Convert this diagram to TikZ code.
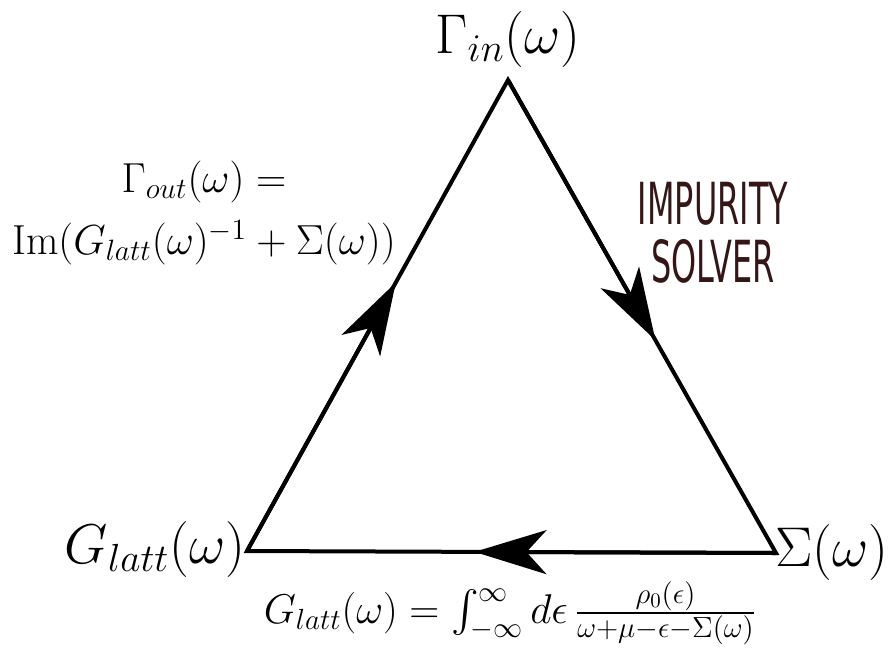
\RequirePackage{fix-cm}
\documentclass[tikz,border=0pt]{standalone}
\usepackage{amsmath}
\usepackage{fontspec}
\usetikzlibrary{arrows.meta,calc}
\newfontfamily\solverfont[FakeStretch=0.55]{DejaVu Sans}
\definecolor{solverbrown}{RGB}{52,22,22}

\begin{document}
\begin{tikzpicture}[x=0.5pt,y=-0.5pt,
  edge/.style={line width=2pt},
  flow/.style={line width=2pt,-{Stealth[length=36pt,width=22pt,inset=10pt]}},
  corner/.style={font=\fontsize{28}{33}\selectfont},
  formula/.style={font=\fontsize{21}{31}\selectfont,align=center}]

\useasboundingbox (0,0) rectangle (889,655);

% Corners of the loop
\coordinate (gin) at (508,80);
\coordinate (glatt) at (247,551);
\coordinate (sig) at (776,553);

% Arrow points on the sides
\coordinate (arrR) at ($(gin)!0.55!(sig)$);
\coordinate (arrB) at ($(sig)!0.57!(glatt)$);
\coordinate (arrL) at ($(glatt)!0.57!(gin)$);

% Triangle
\draw[edge] (gin) -- (sig) -- (glatt) -- cycle;

% Arrows on the sides
\draw[flow] (gin) -- (arrR);
\draw[flow] (sig) -- (arrB);
\draw[flow] (glatt) -- (arrL);

% Corner labels
\node[corner] (ginlabel) at (508,39) {$\Gamma_{in}(\omega)$};
\node[corner] (glattlabel) at (155,549) {$G_{latt}(\omega)$};
\node[corner] (siglabel) at (832,552) {$\Sigma(\omega)$};

% Formulas
\node[formula] (goutlabel) at (204,213)
  {$\Gamma_{out}(\omega)=$\\$\mathrm{Im}(G_{latt}(\omega)^{-1}+\Sigma(\omega))$};
\node[font=\fontsize{20.8}{30}\selectfont] (intlabel) at (510,613)
  {$G_{latt}(\omega)=\int_{-\infty}^{\infty}d\epsilon\,\frac{\rho_0(\epsilon)}{\omega+\mu-\epsilon-\Sigma(\omega)}$};

% Solver
\node[font=\solverfont\fontsize{29}{29}\selectfont,text=solverbrown,align=center]
  (solver) at (713,233) {IMPURITY\\SOLVER};

\end{tikzpicture}
\end{document}
